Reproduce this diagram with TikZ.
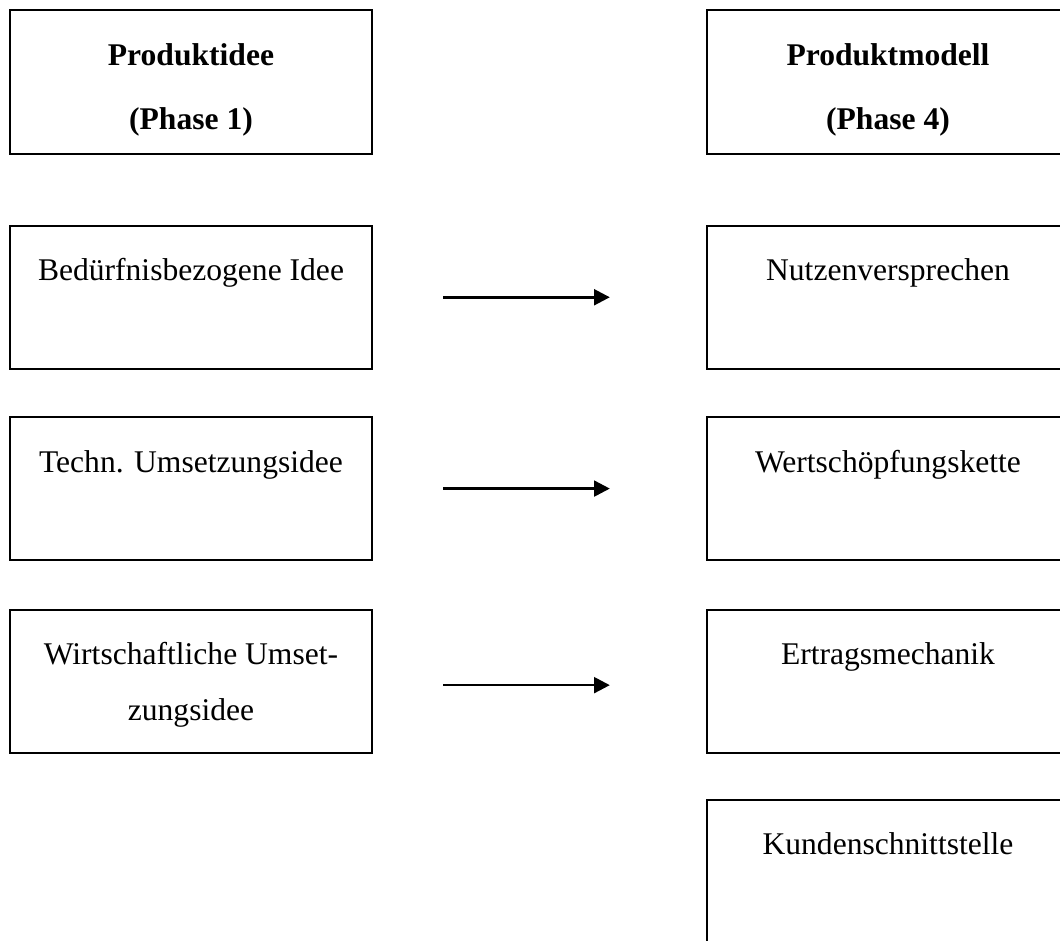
\documentclass[tikz,border=0pt]{standalone}
\usepackage{fontspec}
\setmainfont{Liberation Serif}
\usetikzlibrary{arrows.meta, positioning}

\begin{document}
\begin{tikzpicture}[
    x=0.38pt, y=-0.38pt,
    box/.style={rectangle, draw, line width=0.8pt, inner sep=0pt,
        minimum width=137.6pt, minimum height=54.4pt},
    txt/.style={anchor=base, align=center, inner sep=0pt,
        font=\fontsize{12}{21.3}\selectfont},
    head/.style={txt, font=\bfseries\fontsize{12}{24.3}\selectfont},
    arr/.style={-{Triangle[length=6pt, width=6pt]}, line width=1pt,
        shorten <=26.6pt, shorten >=36.5pt}
]
    \useasboundingbox (0,0) rectangle (1060,940);
    \clip (0,0) rectangle (1060,940);

    % Phase 1 ----------------------------------------------------

    \node[box] (idee) at (191,82) {};
    \node[box, below=26.6pt of idee] (bed) {};
    \node[box, below=17.5pt of bed] (techn) {};
    \node[box, below=18pt of techn] (wirt) {};

    % last line is the base, so two-line texts sit one line lower
    \node[head] (ideetxt) at ([yshift=-45.6pt]idee.north) {Produktidee\\(Phase 1)};
    \node[txt] (bedtxt) at ([yshift=-21.3pt]bed.north) {Bedürfnisbezogene Idee};
    \node[txt] (techntxt) at ([yshift=-21.3pt]techn.north) {Techn. Umsetzungsidee};
    \node[txt] (wirttxt) at ([yshift=-42.6pt]wirt.north) {Wirtschaftliche Umset-\\zungsidee};

    % Phase 4 ----------------------------------------------------

    \node[box] (modell) at (888,82) {};
    \node[box, below=26.6pt of modell] (nutzen) {};
    \node[box, below=17.5pt of nutzen] (wert) {};
    \node[box, below=18pt of wert] (ertrag) {};
    \node[box, below=17.1pt of ertrag, minimum height=62pt] (kunde) {};

    \node[head] (modelltxt) at ([yshift=-45.6pt]modell.north) {Produktmodell\\(Phase 4)};
    \node[txt] (nutzentxt) at ([yshift=-21.3pt]nutzen.north) {Nutzenversprechen};
    \node[txt] (werttxt) at ([yshift=-21.3pt]wert.north) {Wertschöpfungskette};
    \node[txt] (ertragtxt) at ([yshift=-21.3pt]ertrag.north) {Ertragsmechanik};
    \node[txt] (kundetxt) at ([yshift=-21.3pt]kunde.north) {Kundenschnittstelle};

    % Arrows -----------------------------------------------------

    \draw[arr] (bed) -- (nutzen);
    \draw[arr] (techn) -- (wert);
    \draw[arr] ([yshift=-1.5pt]wirt.east) -- ([yshift=-1.5pt]ertrag.west);

\end{tikzpicture}
\end{document}
